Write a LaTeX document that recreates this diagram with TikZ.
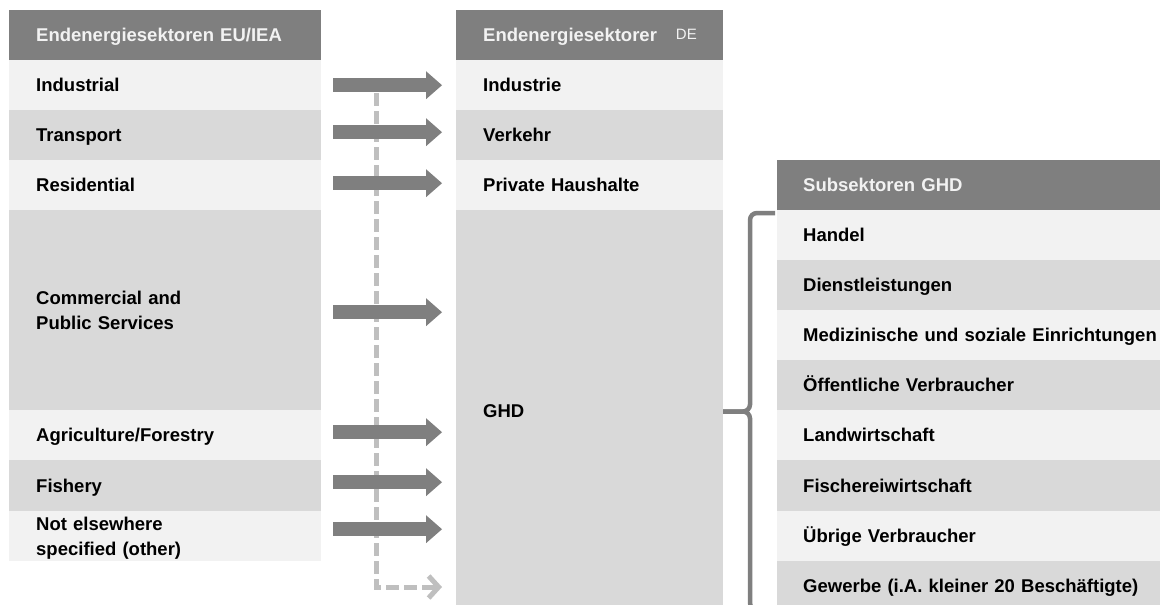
\documentclass[tikz,border=0pt]{standalone}
\usepackage{fontspec}
\setmainfont{Liberation Sans}
\usetikzlibrary{arrows.meta}
\definecolor{headg}{HTML}{7F7F7F}
\definecolor{lightg}{HTML}{F2F2F2}
\definecolor{darkg}{HTML}{D9D9D9}
\definecolor{dashg}{HTML}{BFBFBF}
\definecolor{arrowg}{HTML}{7F7F7F}
\definecolor{braceg}{HTML}{7F7F7F}
\definecolor{headtxt}{HTML}{F2F2F2}
\newcommand{\cellfont}{\fontsize{18.5pt}{25pt}\selectfont\bfseries}
\begin{document}
\begin{tikzpicture}[x=1pt,y=-1pt,
 cell/.style={rectangle, anchor=north west, inner xsep=27pt, inner ysep=0pt, align=left,
   text height=13.2pt, text depth=0pt, font=\cellfont, text=black, minimum height=50pt},
 two/.style={text depth=25pt},
 lcol/.style={cell, text width=258pt},
 mcol/.style={cell, text width=213pt},
 rcol/.style={cell, inner xsep=26pt, text width=331pt},
 lt/.style={fill=lightg}, dk/.style={fill=darkg}, hd/.style={fill=headg, text=headtxt},
 blockarrow/.style={draw=arrowg, line width=13.5pt, shorten <=12pt, shorten >=14pt,
   -{Triangle[length=16pt 0 0, width=28pt 0 0, line width=0pt 0 0]}},
 dashconn/.style={draw=dashg, line width=5pt, dash pattern=on 13pt off 5pt,
   -{Straight Barb[length=10pt 0 0, width=22pt 0 0]}},
 bracesty/.style={draw=braceg, line width=4.5pt, rounded corners=7pt}
]
\useasboundingbox (0,0) rectangle (1160,605);
\clip (0,0) rectangle (1160,605);
\fill[white] (0,0) rectangle (1160,605);

% left column
\node[lcol,hd] (lh) at (9,10) {Endenergiesektoren EU/IEA};
\node[lcol,lt] (ind) at (9,60) {Industrial};
\node[lcol,dk] (tra) at (9,110) {Transport};
\node[lcol,lt] (res) at (9,160) {Residential};
\node[lcol,dk,two,minimum height=200pt] (com) at (9,210) {Commercial and\\Public Services};
\node[lcol,lt] (agr) at (9,410) {Agriculture/Forestry};
\node[lcol,dk,minimum height=51pt] (fis) at (9,460) {Fishery};
\node[lcol,lt,two] (nes) at (9,511) {Not elsewhere\\specified (other)};

% middle column
\node[mcol,hd] (mh) at (456,10) {\mbox{Endenergiesektorer\hspace{19pt}{\mdseries\fontsize{15pt}{16pt}\selectfont\raisebox{2pt}{DE}}}};
\node[mcol,lt] (indu) at (456,60) {Industrie};
\node[mcol,dk] (verk) at (456,110) {Verkehr};
\node[mcol,lt] (priv) at (456,160) {Private Haushalte};
\node[mcol,dk,minimum height=401pt] (ghd) at (456,210) {GHD};

% right column
\node[rcol,hd] (rh) at (777,160) {Subsektoren GHD};
\node[rcol,lt] (han) at (777,210) {Handel};
\node[rcol,dk] (die) at (777,260) {Dienstleistungen};
\node[rcol,lt] (med) at (777,310) {\mbox{Medizinische und soziale Einrichtungen}};
\node[rcol,dk] (oef) at (777,360) {Öffentliche Verbraucher};
\node[rcol,lt] (lan) at (777,410) {Landwirtschaft};
\node[rcol,dk,minimum height=51pt] (fic) at (777,460) {Fischereiwirtschaft};
\node[rcol,lt] (ueb) at (777,511) {Übrige Verbraucher};
\node[rcol,dk] (gew) at (777,561) {\mbox{Gewerbe (i.A. kleiner 20 Beschäftigte)}};

% dashed connector
\coordinate (dtop) at (376,93);
\coordinate (dend) at (442,587);
\draw[dashconn] (dtop) |- (dend);

% block arrows
\draw[blockarrow] (ind.east) -- (indu.west);
\draw[blockarrow] ([yshift=3pt]tra.east) -- ([yshift=3pt]verk.west);
\draw[blockarrow] ([yshift=2pt]res.east) -- ([yshift=2pt]priv.west);
\coordinate (c1) at ([yshift=-2pt]com.east);
\coordinate (c2) at ([yshift=3pt]agr.east);
\coordinate (c3) at ([yshift=3.5pt]fis.east);
\coordinate (c4) at ([yshift=7pt]nes.east);
\draw[blockarrow] (c1) -- (c1 -| ghd.west);
\draw[blockarrow] (c2) -- (c2 -| ghd.west);
\draw[blockarrow] (c3) -- (c3 -| ghd.west);
\draw[blockarrow] (c4) -- (c4 -| ghd.west);

% brace
\draw[bracesty] (775,213) -- (750,213) -- (750,411.5) -- (723,411.5);
\draw[bracesty] (723,411.5) -- (750,411.5) -- (750,610) -- (775,610);
\end{tikzpicture}
\end{document}
